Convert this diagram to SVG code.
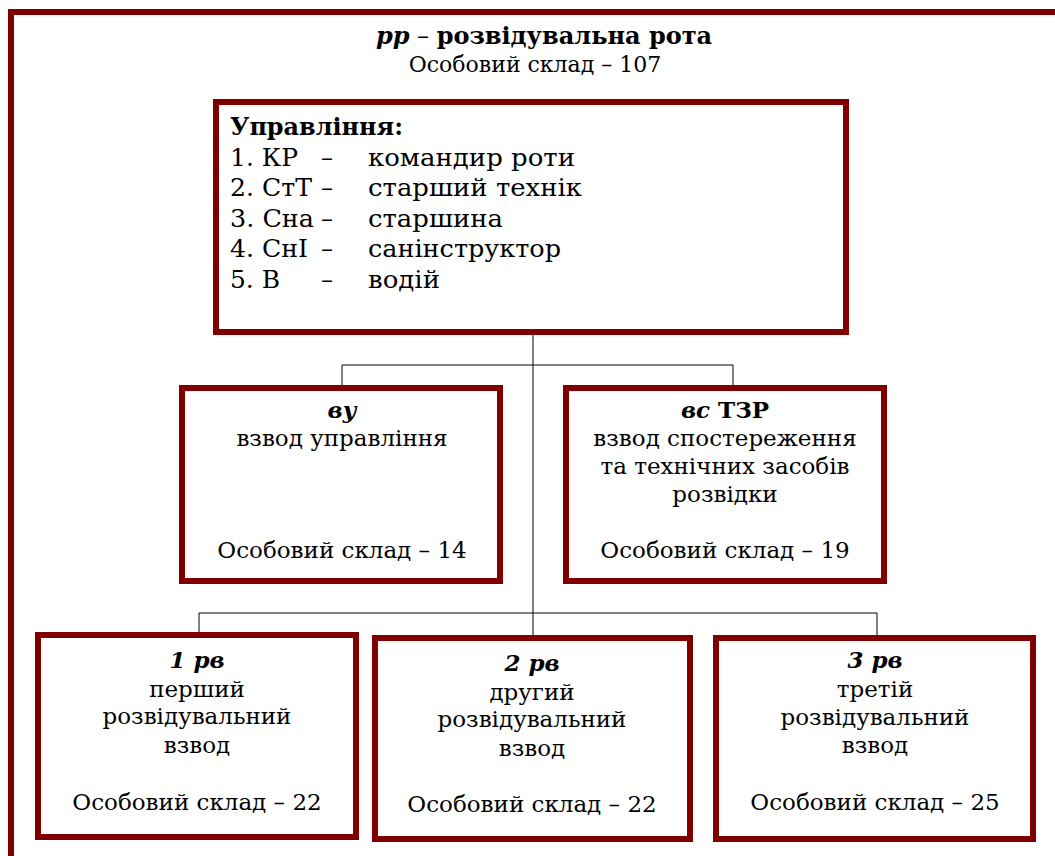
<svg xmlns="http://www.w3.org/2000/svg" width="1055" height="856" viewBox="0 0 1055 856">
<style>
text{font-family:"DejaVu Serif","Liberation Serif",serif;font-size:23px;fill:#000}
.c{text-anchor:middle}
.b{font-weight:bold}
.bi{font-weight:bold;font-style:italic}
.m{font-size:24px}
.box{fill:#fff;stroke:#800000;stroke-width:6}
.ln{fill:none;stroke:#000;stroke-width:1}
</style>
<rect width="1055" height="856" fill="#fff"/>
<path d="M11 860 V12 H1060" fill="none" stroke="#800000" stroke-width="6"/>
<g id="header">
<text class="c" x="544" y="44" style="font-size:24px"><tspan class="bi">рр</tspan> – <tspan class="b">розвідувальна рота</tspan></text>
<text class="c" x="535" y="72" style="font-size:22px">Особовий склад – 107</text>
</g>
<g id="connectors">
<path class="ln" d="M533 335 V635 M342 365 H733 M342 365 V385 M733 365 V385 M199 613 H877 M199 613 V632 M877 613 V635"/>
</g>
<g id="upravlinnia">
<rect class="box" x="216" y="102" width="630" height="230"/>
<text class="b m" x="230" y="135" textLength="173" lengthAdjust="spacingAndGlyphs">Управління:</text>
<text class="m" x="230" y="166" textLength="68" lengthAdjust="spacingAndGlyphs">1. КР</text><text class="m" x="321" y="166">–</text><text class="m" x="368" y="166" textLength="207" lengthAdjust="spacingAndGlyphs">командир роти</text>
<text class="m" x="230" y="196" textLength="82" lengthAdjust="spacingAndGlyphs">2. СтТ</text><text class="m" x="321" y="196">–</text><text class="m" x="368" y="196" textLength="214" lengthAdjust="spacingAndGlyphs">старший технік</text>
<text class="m" x="230" y="227" textLength="84" lengthAdjust="spacingAndGlyphs">3. Сна</text><text class="m" x="321" y="227">–</text><text class="m" x="368" y="227" textLength="135" lengthAdjust="spacingAndGlyphs">старшина</text>
<text class="m" x="230" y="257" textLength="78" lengthAdjust="spacingAndGlyphs">4. СнІ</text><text class="m" x="321" y="257">–</text><text class="m" x="368" y="257" textLength="193" lengthAdjust="spacingAndGlyphs">санінструктор</text>
<text class="m" x="230" y="288" textLength="50" lengthAdjust="spacingAndGlyphs">5. В</text><text class="m" x="321" y="288">–</text><text class="m" x="368" y="288" textLength="72" lengthAdjust="spacingAndGlyphs">водій</text>
</g>
<g id="vu">
<rect class="box" x="182" y="388" width="318" height="193"/>
<text class="c bi" x="342" y="418">ву</text>
<text class="c" x="342" y="446">взвод управління</text>
<text class="c" x="342" y="558">Особовий склад – 14</text>
</g>
<g id="vs-tzr">
<rect class="box" x="566" y="388" width="318" height="193"/>
<text class="c" x="725" y="418"><tspan class="bi">вс</tspan><tspan class="b"> ТЗР</tspan></text>
<text class="c" x="725" y="446">взвод спостереження</text>
<text class="c" x="725" y="474">та технічних засобів</text>
<text class="c" x="725" y="502">розвідки</text>
<text class="c" x="725" y="558">Особовий склад – 19</text>
</g>
<g id="rv1">
<rect class="box" x="38" y="635" width="318" height="202"/>
<text class="c bi" x="197" y="668">1 рв</text>
<text class="c" x="197" y="697">перший</text>
<text class="c" x="197" y="724">розвідувальний</text>
<text class="c" x="197" y="753">взвод</text>
<text class="c" x="197" y="810">Особовий склад – 22</text>
</g>
<g id="rv2">
<rect class="box" x="375" y="638" width="315" height="201"/>
<text class="c bi" x="532" y="671">2 рв</text>
<text class="c" x="532" y="700">другий</text>
<text class="c" x="532" y="727">розвідувальний</text>
<text class="c" x="532" y="756">взвод</text>
<text class="c" x="532" y="812">Особовий склад – 22</text>
</g>
<g id="rv3">
<rect class="box" x="716" y="638" width="317" height="201"/>
<text class="c bi" x="875" y="668">3 рв</text>
<text class="c" x="875" y="697">третій</text>
<text class="c" x="875" y="725">розвідувальний</text>
<text class="c" x="875" y="753">взвод</text>
<text class="c" x="875" y="810">Особовий склад – 25</text>
</g>
</svg>
